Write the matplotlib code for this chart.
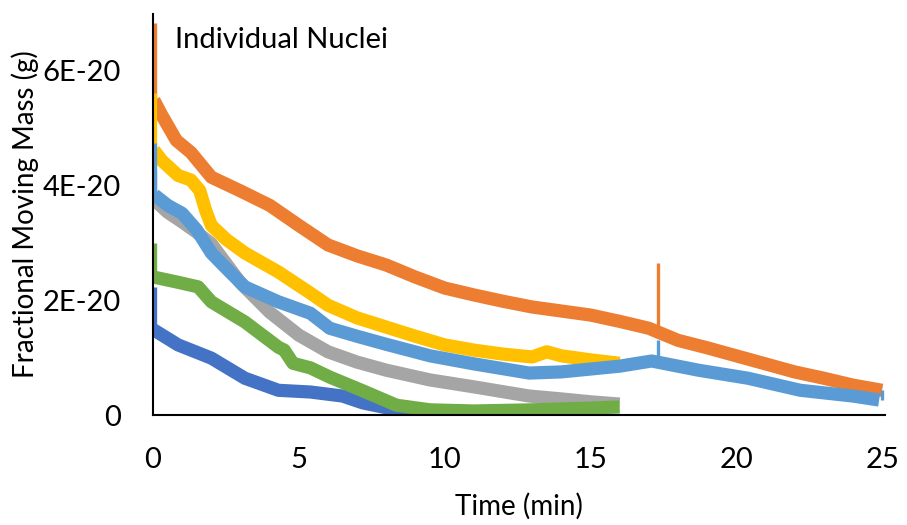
import numpy as np
import matplotlib
matplotlib.use("Agg")
import matplotlib.pyplot as plt

plt.rcParams["font.family"] = ["Lato", "DejaVu Sans"]

SCALE = 1e-20  # values below are in units of 1E-20 g

# series: (time min, fractional moving mass / 1E-20)
t_dblue = [0.03, 0.86, 2.0, 3.15, 4.3, 5.4, 6.5, 7.2, 8.35, 10, 13, 15]
m_dblue = [1.48, 1.22, 0.99, 0.64, 0.43, 0.40, 0.33, 0.21, 0.09, 0.05, 0.05, 0.03]

t_orange = [0.03, 0.3, 0.8, 1.3, 2.0, 3.0, 4.0, 5.0, 6.0, 7.0, 8.0, 9.0, 10, 11, 12,
            13, 14, 15, 16, 17, 18, 19, 20, 21, 22, 23, 24, 25]
m_orange = [5.48, 5.22, 4.78, 4.57, 4.14, 3.90, 3.65, 3.30, 2.96, 2.77, 2.61, 2.40,
            2.21, 2.09, 1.98, 1.88, 1.81, 1.74, 1.63, 1.51, 1.30, 1.17,
            1.03, 0.89, 0.75, 0.64, 0.52, 0.43]

t_gray = [0.05, 0.5, 1.0, 1.5, 2.0, 3.0, 4.0, 5.0, 6.0, 7.0, 8.0, 9.5, 11, 12.9, 14, 15, 16]
m_gray = [3.74, 3.53, 3.36, 3.18, 2.98, 2.30, 1.79, 1.39, 1.10, 0.92, 0.78, 0.61,
          0.49, 0.33, 0.28, 0.23, 0.19]

t_yellow = [0.03, 0.3, 0.86, 1.3, 1.6, 1.8, 2.0, 2.5, 3.15, 4.3, 5.4, 6.0, 7, 8, 9,
            10, 11, 12, 13, 13.5, 14, 15, 16]
m_yellow = [4.61, 4.43, 4.17, 4.09, 3.91, 3.57, 3.30, 3.06, 2.82, 2.49, 2.12, 1.91,
            1.69, 1.53, 1.37, 1.22, 1.13, 1.06, 1.01, 1.10, 1.03, 0.96, 0.90]

t_lblue = [0.05, 0.5, 1.0, 1.5, 2.0, 2.5, 3.15, 4.3, 5.4, 6.06, 7, 8, 9.5, 11, 12.9,
           14, 15, 16, 17.1, 18.7, 20.4, 22.2, 24, 24.9]
m_lblue = [3.83, 3.65, 3.51, 3.22, 2.82, 2.56, 2.23, 1.97, 1.77, 1.51, 1.37, 1.23,
           1.03, 0.89, 0.73, 0.75, 0.80, 0.85, 0.94, 0.78, 0.64, 0.43,
           0.33, 0.26]

t_green = [0.03, 0.86, 1.55, 2.0, 3.15, 4.3, 4.5, 4.8, 5.4, 6.06, 7.2, 8.35, 9.5, 11, 13, 15, 16]
m_green = [2.40, 2.31, 2.23, 1.97, 1.62, 1.18, 1.13, 0.90, 0.82, 0.66, 0.42, 0.17,
           0.09, 0.07, 0.09, 0.12, 0.14]

# thin single-sample spikes: (time, base, top)
spike_dblue = [(0.06, 1.48, 2.23)]
spike_orange = [(0.06, 5.48, 6.83), (17.3, 1.48, 2.64)]
spike_gray = [(0.06, 3.74, 4.26)]
spike_yellow = [(0.06, 4.61, 5.60)]
spike_lblue = [(0.06, 3.83, 4.73), (17.3, 0.92, 1.30), (25.0, 0.26, 0.43)]
spike_green = [(0.06, 2.40, 2.99)]

series = [
    (t_dblue, m_dblue, spike_dblue, "#4472C4"),
    (t_orange, m_orange, spike_orange, "#ED7D31"),
    (t_gray, m_gray, spike_gray, "#A5A5A5"),
    (t_yellow, m_yellow, spike_yellow, "#FFC000"),
    (t_lblue, m_lblue, spike_lblue, "#5B9BD5"),
    (t_green, m_green, spike_green, "#70AD47"),
]

x_ticks = [0, 5, 10, 15, 20, 25]
y_ticks = [0, 2, 4, 6]
y_labels = ["0", "2E-20", "4E-20", "6E-20"]

fig = plt.figure(figsize=(9.07, 5.25), dpi=100)
ax = fig.add_axes([153 / 907, 1 - 415 / 525, (885 - 153) / 907, (415 - 14) / 525])

for t, m, spikes, c in series:
    ax.plot(t, np.array(m) * SCALE, color=c, lw=9.5, solid_joinstyle="round",
            solid_capstyle="butt")
    for st, lo, hi in spikes:
        ax.plot([st, st], [lo * SCALE, hi * SCALE], color=c, lw=2.4, solid_capstyle="butt")

ax.set_xlim(0, 25.1)
ax.set_ylim(0, 6.98 * SCALE)
ax.set_xticks(x_ticks)
ax.set_yticks([v * SCALE for v in y_ticks])
ax.set_yticklabels(y_labels)
for s in ["top", "right"]:
    ax.spines[s].set_visible(False)
for s in ["left", "bottom"]:
    ax.spines[s].set_linewidth(1.5)
    ax.spines[s].set_color("black")
ax.tick_params(length=0, labelsize=21, pad=23, colors="#000000")
ax.set_xlabel("Time (min)", fontsize=20, labelpad=14)
ax.set_ylabel("Fractional Moving Mass (g)", fontsize=20, labelpad=3)
ax.text(0.75, 6.52 * SCALE, "Individual Nuclei", fontsize=21, va="center", ha="left")

fig.savefig("out.png", dpi=100, facecolor="white")
